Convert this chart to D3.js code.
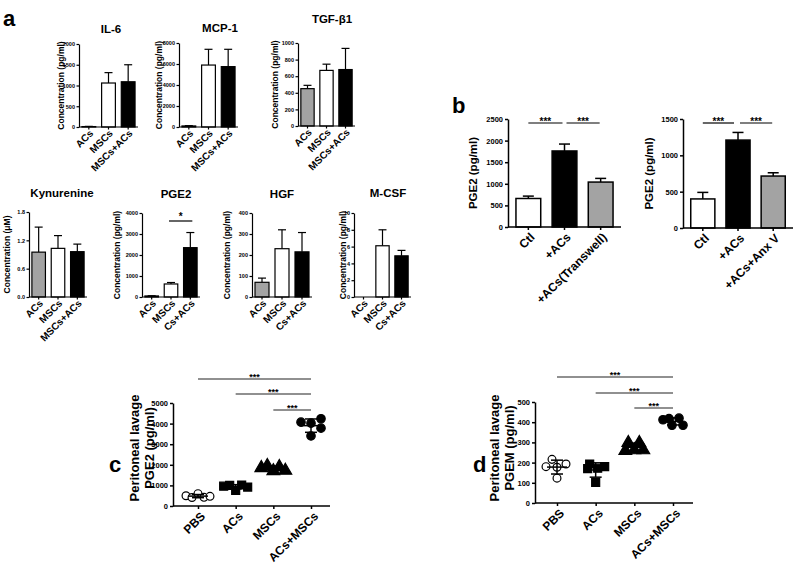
<!DOCTYPE html>
<html><head><meta charset="utf-8">
<script src="https://cdn.jsdelivr.net/npm/d3@7"></script>
<style>
body{margin:0;background:#fff}
svg{font-family:"Liberation Sans",Arial,Helvetica,sans-serif;font-weight:bold}
</style>
</head><body>
<svg id="fig" width="796" height="569"></svg>
<script>
// ---------------- DATA ----------------
const catsA = ["ACs","MSCs","MSCs+ACs"];
const catsA2 = ["ACs","MSCs","Cs+ACs"];
const il6Mean = [10,1060,1090],   il6Err = [5,250,410];
const mcpMean = [100,5900,5750],  mcpErr = [30,1500,1650];
const tgfMean = [450,670,680],    tgfErr = [40,75,255];
const kynMean = [0.95,1.03,0.96], kynErr = [0.53,0.27,0.16];
const pgeAMean = [50,620,2350],   pgeAErr = [10,70,720];
const hgfMean = [70,230,215],     hgfErr = [20,90,92];
const mcsfMean = [0,6.1,4.9],     mcsfErr = [0,1.9,0.65];

const il6Ticks = [0,500,1000,1500,2000];
const mcpTicks = [0,2000,4000,6000,8000];
const tgfTicks = [0,200,400,600,800,1000];
const kynTicks = [0,0.6,1.2,1.8];
const pgeATicks = [0,1000,2000,3000,4000];
const hgfTicks = [0,100,200,300,400];
const mcsfTicks = [0,2,4,6,8,10];

const catsB1 = ["Ctl","+ACs","+ACs(Transwell)"];
const b1Mean = [660,1760,1040], b1Err = [55,160,85];
const b1Ticks = [0,500,1000,1500,2000,2500];
const catsB2 = ["Ctl","+ACs","+ACs+Anx V"];
const b2Mean = [400,1210,715], b2Err = [90,105,45];
const b2Ticks = [0,500,1000,1500];

const catsCD = ["PBS","ACs","MSCs","ACs+MSCs"];
const cPBS = [500,410,600,420,470];
const cACs = [960,1000,760,1020,920];
const cMSCs = [1850,1950,1700,1900,1720];
const cACsMSCs = [4070,4020,4235,3780,3400];
const cTicks = [0,1000,2000,3000,4000,5000];
const dPBS = [180,216,177,193,123];
const dACs = [170,193,172,180,102];
const dMSCs = [298,298,259,262,262];
const dACsMSCs = [412,418,420,385,385];
const dTicks = [0,100,200,300,400,500];
const sigPairs = [[0,3],[1,3],[2,3]];

// ---------------- STYLE / LAYOUT ----------------
const GRAY = "#a3a3a3";
const fillsA = [GRAY,"#fff","#000"];
const fillsB = ["#fff","#000",GRAY];
// horizontal jitter (px) of the dots in c and d
const jitC = [[-12,-6,0,6,12],[-12,-6,0,6,12],[-12,-6,0,6,12],[-10,0,10,10,0]];
const jitD = [[-11,-5,0,9,0],[-8,-6,2,9,0],[-6,5,-9,0,9],[-10,-4,6,-1,10]];

const svg = d3.select("#fig");

function barPanel(o){
  const g = svg.append("g");
  const x = d3.scaleBand().domain(o.cats).range([o.x0,o.x1]).paddingInner(o.pi).paddingOuter(o.po);
  const y = d3.scaleLinear().domain([0,o.ticks[o.ticks.length-1]]).range([o.yBot,o.yTop]);
  const idx = d3.range(o.cats.length);
  const cap = Math.min(o.capMax, x.bandwidth()*0.6);
  idx.forEach(i=>{
    if(o.errs[i] <= 0) return;
    const cx = x(o.cats[i]) + x.bandwidth()/2;
    g.append("line").attr("x1",cx).attr("x2",cx).attr("y1",y(o.means[i])).attr("y2",y(o.means[i]+o.errs[i]))
      .attr("stroke","#000").attr("stroke-width",o.sw);
    g.append("line").attr("x1",cx-cap/2).attr("x2",cx+cap/2).attr("y1",y(o.means[i]+o.errs[i])).attr("y2",y(o.means[i]+o.errs[i]))
      .attr("stroke","#000").attr("stroke-width",o.sw);
  });
  g.selectAll("rect.bar").data(idx).join("rect").attr("class","bar")
    .attr("x",i=>x(o.cats[i])).attr("width",x.bandwidth())
    .attr("y",i=>y(o.means[i])).attr("height",i=>o.yBot-y(o.means[i]))
    .attr("fill",i=>o.fills[i]).attr("stroke","#000").attr("stroke-width",o.sw);
  const ya = g.append("g").attr("transform",`translate(${o.x0},0)`)
    .call(d3.axisLeft(y).tickValues(o.ticks).tickSize(o.tk).tickSizeOuter(0).tickPadding(o.tp).tickFormat(o.fmt));
  ya.selectAll("path,line").attr("stroke","#000").attr("stroke-width",o.sw);
  ya.selectAll("text").attr("font-size",o.tickFont).attr("font-family",null).attr("font-weight","bold").attr("fill","#000");
  const xa = g.append("g").attr("transform",`translate(0,${o.yBot})`)
    .call(d3.axisBottom(x).tickSize(o.tk).tickSizeOuter(0).tickFormat(""));
  xa.select("path").attr("d",`M${o.x0},0H${o.x1}`);
  xa.selectAll("path,line").attr("stroke","#000").attr("stroke-width",o.sw);
  idx.forEach(i=>{
    const cx = x(o.cats[i]) + x.bandwidth()/2;
    g.append("text").attr("text-anchor","end").attr("font-size",o.xFont)
      .attr("transform",`translate(${cx+o.xlx},${o.yBot+o.xly}) rotate(-45)`).text(o.cats[i]);
  });
  g.append("text").attr("text-anchor","middle").attr("font-size",o.yFont)
    .attr("transform",`translate(${o.ylx},${(o.yTop+o.yBot)/2}) rotate(-90)`).attr("dy","0.35em").text(o.ylabel);
  if(o.title) g.append("text").attr("text-anchor","middle").attr("font-size",o.titleFont)
    .attr("x",o.tx).attr("y",o.ty).text(o.title);
  (o.sig||[]).forEach(s=>{
    const a = x(o.cats[s.from]) + x.bandwidth()/2 + s.da, b = x(o.cats[s.to]) + x.bandwidth()/2 + s.db;
    g.append("line").attr("x1",a).attr("x2",b).attr("y1",s.y).attr("y2",s.y).attr("stroke","#000").attr("stroke-width",1.2);
    g.append("text").attr("text-anchor","middle").attr("font-size",s.fs).attr("x",(a+b)/2).attr("y",s.y+s.ty).text(s.label);
  });
}

const rowA = {pi:0.3, po:0.15, sw:1.2, tk:2.5, tp:1.5, capMax:8, tickFont:5.5, xFont:10, xlx:5, xly:7, yFont:8.5, titleFont:11.5, fmt:d3.format("d")};
const ylabA = "Concentration (pg/ml)";
barPanel({...rowA, cats:catsA, means:il6Mean, errs:il6Err, ticks:il6Ticks, fills:fillsA, x0:79, x1:138, yTop:44, yBot:127, ylx:61, ylabel:ylabA, title:"IL-6", tx:111, ty:33});
barPanel({...rowA, cats:catsA, means:mcpMean, errs:mcpErr, ticks:mcpTicks, fills:fillsA, x0:179, x1:238, yTop:43, yBot:127, ylx:159, ylabel:ylabA, title:"MCP-1", tx:220, ty:32});
barPanel({...rowA, cats:catsA, means:tgfMean, errs:tgfErr, ticks:tgfTicks, fills:fillsA, x0:298, x1:355, yTop:43, yBot:126, ylx:275, ylabel:ylabA, title:"TGF-β1", tx:332, ty:23});
barPanel({...rowA, cats:catsA, means:kynMean, errs:kynErr, ticks:kynTicks, fills:fillsA, x0:29, x1:87, yTop:212, yBot:297, ylx:7, ylabel:"Concentration (μM)", title:"Kynurenine", tx:62, ty:197, fmt:d3.format(".1f")});
barPanel({...rowA, cats:catsA2, means:pgeAMean, errs:pgeAErr, ticks:pgeATicks, fills:fillsA, x0:142, x1:200, yTop:213, yBot:297, ylx:117, ylabel:ylabA, title:"PGE2", tx:176, ty:198,
  sig:[{from:1,to:2,y:221,label:"*",fs:10,ty:-1,da:-2,db:2}]});
barPanel({...rowA, cats:catsA2, means:hgfMean, errs:hgfErr, ticks:hgfTicks, fills:fillsA, x0:252, x1:312, yTop:213, yBot:297, ylx:227, ylabel:ylabA, title:"HGF", tx:282, ty:198});
barPanel({...rowA, cats:catsA2, means:mcsfMean, errs:mcsfErr, ticks:mcsfTicks, fills:fillsA, x0:354, x1:411, yTop:213, yBot:297, ylx:343, ylabel:ylabA, title:"M-CSF", tx:388, ty:197});

const rowB = {pi:0.315, po:0.22, sw:1.5, tk:3, tp:2, capMax:11, tickFont:7.5, xFont:12, xlx:7, xly:11, yFont:11.5, fmt:d3.format("d")};
barPanel({...rowB, cats:catsB1, means:b1Mean, errs:b1Err, ticks:b1Ticks, fills:fillsB, x0:508, x1:621, yTop:119, yBot:227, ylx:473, ylabel:"PGE2 (pg/ml)",
  sig:[{from:0,to:1,y:123,label:"***",fs:10,ty:2,da:0,db:-2},{from:1,to:2,y:123,label:"***",fs:10,ty:2,da:2,db:-1}]});
barPanel({...rowB, cats:catsB2, means:b2Mean, errs:b2Err, ticks:b2Ticks, fills:fillsB, x0:683, x1:793, yTop:119, yBot:228, ylx:649, ylabel:"PGE2 (pg/ml)",
  sig:[{from:0,to:1,y:123,label:"***",fs:10,ty:2,da:0,db:-4},{from:1,to:2,y:123,label:"***",fs:10,ty:2,da:2,db:-1}]});

function dotPanel(o){
  const g = svg.append("g");
  const x = d3.scalePoint().domain(o.cats).range([o.p0,o.p1]);
  const y = d3.scaleLinear().domain([0,o.ticks[o.ticks.length-1]]).range([o.yBot,o.yTop]);
  const sw = 1.5;
  const ya = g.append("g").attr("transform",`translate(${o.x0},0)`)
    .call(d3.axisLeft(y).tickValues(o.ticks).tickSize(3).tickSizeOuter(0).tickPadding(2).tickFormat(d3.format("d")));
  ya.selectAll("path,line").attr("stroke","#000").attr("stroke-width",sw);
  ya.selectAll("text").attr("font-size",7.5).attr("font-family",null).attr("font-weight","bold").attr("fill","#000");
  const xa = g.append("g").attr("transform",`translate(0,${o.yBot})`)
    .call(d3.axisBottom(x).tickSize(3).tickSizeOuter(0).tickFormat(""));
  xa.select("path").attr("d",`M${o.x0},0H${o.x1}`);
  xa.selectAll("path,line").attr("stroke","#000").attr("stroke-width",sw);
  const shapes = [d3.symbolCircle, d3.symbolSquare, d3.symbolTriangle, d3.symbolCircle];
  const fills = ["#fff","#000","#000","#000"];
  const sizes = [48,64,70,56];
  o.groups.forEach((vals,gi)=>{
    const cx = x(o.cats[gi]);
    vals.forEach((v,k)=>{
      g.append("path").attr("d",d3.symbol(shapes[gi],sizes[gi])())
        .attr("transform",`translate(${cx+o.jit[gi][k]},${y(v)})`)
        .attr("fill",fills[gi]).attr("stroke","#000").attr("stroke-width",1.2);
    });
    const m = d3.mean(vals), sd = d3.deviation(vals);
    g.append("line").attr("x1",cx).attr("x2",cx).attr("y1",y(m-sd)).attr("y2",y(m+sd)).attr("stroke","#000").attr("stroke-width",sw);
    g.append("line").attr("x1",cx-10).attr("x2",cx+10).attr("y1",y(m)).attr("y2",y(m)).attr("stroke","#000").attr("stroke-width",sw);
    [m-sd,m+sd].forEach(e=>g.append("line").attr("x1",cx-6).attr("x2",cx+6).attr("y1",y(e)).attr("y2",y(e)).attr("stroke","#000").attr("stroke-width",sw));
    g.append("text").attr("text-anchor","end").attr("font-size",12)
      .attr("transform",`translate(${cx+8},${o.yBot+11}) rotate(-45)`).text(o.cats[gi]);
  });
  o.ylabel.forEach((t,i)=>{
    g.append("text").attr("text-anchor","middle").attr("font-size",13)
      .attr("transform",`translate(${o.ylx[i]},${o.yly}) rotate(-90)`).attr("dy","0.35em").text(t);
  });
  sigPairs.forEach((p,i)=>{
    const a = x(o.cats[p[0]]), b = x(o.cats[p[1]]);
    g.append("line").attr("x1",a).attr("x2",b).attr("y1",o.sigY[i]).attr("y2",o.sigY[i]).attr("stroke","#222").attr("stroke-width",1.2);
    g.append("text").attr("text-anchor","middle").attr("font-size",9).attr("x",(a+b)/2).attr("y",o.sigY[i]+1).text("***");
  });
}

dotPanel({cats:catsCD, groups:[cPBS,cACs,cMSCs,cACsMSCs], ticks:cTicks, jit:jitC, x0:173, x1:330, p0:198, p1:311, yTop:403, yBot:506,
  ylabel:["Peritoneal lavage","PGE2 (pg/ml)"], ylx:[134,149], yly:448, sigY:[379,394,410]});
dotPanel({cats:catsCD, groups:[dPBS,dACs,dMSCs,dACsMSCs], ticks:dTicks, jit:jitD, x0:535, x1:693, p0:557, p1:673, yTop:402, yBot:503,
  ylabel:["Peritoneal lavage","PGEM (pg/ml)"], ylx:[494,509], yly:448, sigY:[377,393,408]});

// panel letters
[["a",3,26],["b",452,113],["c",109,472],["d",473,472]].forEach(l=>{
  svg.append("text").attr("x",l[1]).attr("y",l[2]).attr("font-size",22).text(l[0]);
});
</script>
</body></html>
